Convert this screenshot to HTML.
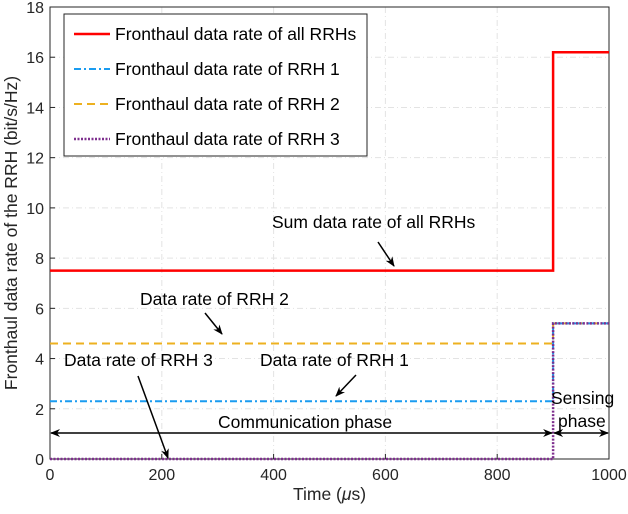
<!DOCTYPE html>
<html><head><meta charset="utf-8"><style>
body{margin:0;background:#fff}
svg{display:block;font-family:"Liberation Sans",Arial,sans-serif}
</style></head><body>
<svg id="c" width="628" height="514" viewBox="0 0 628 514">
<defs><marker id="ah" markerWidth="10" markerHeight="8" refX="9" refY="4" orient="auto-start-reverse" markerUnits="userSpaceOnUse"><path d="M0,0 L10,4 L0,8 L3,4 Z" fill="#000"/></marker></defs>
</svg>
<script>
const xTicks=[0,200,400,600,800,1000];
const yTicks=[0,2,4,6,8,10,12,14,16,18];
const timeSteps=[0,900,1000];
const sumRate=[7.5,16.2];
const rrh1Rate=[2.3,5.4];
const rrh2Rate=[4.6,5.4];
const rrh3Rate=[0,5.4];
const L=50,R=609,T=7,B=459;
const FS=17.5,TFS=16;
const X=v=>L+(v-0)/(1000-0)*(R-L);
const Y=v=>B-(v-0)/(18-0)*(B-T);
const svg=document.getElementById('c');const NS='http://www.w3.org/2000/svg';
function mk(tag,attrs,parent){const e=document.createElementNS(NS,tag);for(const k in attrs)e.setAttribute(k,attrs[k]);(parent||svg).appendChild(e);return e;}
mk('rect',{x:L,y:T,width:R-L,height:B-T,fill:'#fff'});
xTicks.forEach(t=>{const g=mk('line',{x1:X(t),x2:X(t),y1:T,y2:B,stroke:'#e3e3e3','stroke-dasharray':'6,3,1,3'});

const tx=mk('text',{x:X(t),y:B+21,'text-anchor':'middle','font-size':TFS,fill:'#262626'});tx.textContent=t;

mk('line',{x1:X(t),x2:X(t),y1:B,y2:B-5,stroke:'#262626'});});
yTicks.forEach(t=>{const g=mk('line',{x1:L,x2:R,y1:Y(t),y2:Y(t),stroke:'#e3e3e3','stroke-dasharray':'6,3,1,3'});

const tx=mk('text',{x:L-6,y:Y(t)+6,'text-anchor':'end','font-size':TFS,fill:'#262626'});tx.textContent=t;

mk('line',{x1:L,x2:L+5,y1:Y(t),y2:Y(t),stroke:'#262626'});});
const ax=mk('rect',{x:L,y:T,width:R-L,height:B-T,fill:'none',stroke:'#262626','stroke-width':1});

function stepPath(vals){let d='';for(let i=0;i<vals.length;i++){const x0=X(timeSteps[i]),x1=X(timeSteps[i+1]),y=Y(vals[i]);d+=(i===0?'M':'L')+x0+','+y+' L'+x1+','+y+' ';}return d;}
const series=[[sumRate,'#ff0000','',2.5,'sum-rate-line'],[rrh2Rate,'#edb120','8,5',2,'rrh2-rate-line'],[rrh1Rate,'#1a9cf0','7,3,2,3',2,'rrh1-rate-line'],[rrh3Rate,'#7e2f8e','2,1.5',2.5,'rrh3-rate-line']];
series.forEach(s=>{const p=mk('path',{d:stepPath(s[0]),fill:'none',stroke:s[1],'stroke-width':s[3],'stroke-dasharray':s[2]});
});
const lg=mk('g',{});
mk('rect',{x:64,y:14,width:303,height:142,fill:'#fff',stroke:'#262626'},lg);
const labs=['Fronthaul data rate of all RRHs','Fronthaul data rate of RRH 1','Fronthaul data rate of RRH 2','Fronthaul data rate of RRH 3'];
const lorder=[0,2,1,3];
labs.forEach((l,i)=>{const s=series[lorder[i]];const y=34+i*35;
mk('line',{x1:74,x2:110,y1:y,y2:y,stroke:s[1],'stroke-width':s[3],'stroke-dasharray':s[2]},lg);
const t=mk('text',{x:115,y:y+6,'font-size':FS,fill:'#000'},lg);t.textContent=l;
});
function ann(txt,tx,ty,x1,y1,x2,y2,name){const t=mk('text',{x:tx,y:ty,'font-size':FS,fill:'#000'});t.textContent=txt;

if(x1!==null)mk('line',{x1:x1,y1:y1,x2:x2,y2:y2,stroke:'#000','stroke-width':1.5,'marker-end':'url(#ah)'});}
ann('Sum data rate of all RRHs',272,228,378,242,394,266,'sum-annotation');
ann('Data rate of RRH 2',140,305,205,313,222,334,'rrh2-annotation');
ann('Data rate of RRH 1',260,366,356,375,336,396,'rrh1-annotation');
ann('Data rate of RRH 3',64,366,138,376,168,458,'rrh3-annotation');
ann('Communication phase',218,428,null,null,null,null,'communication-phase-label');
ann('Sensing',551,404,null,null,null,null,'sensing-label');ann('phase',558,427,null,null,null,null,'phase-label');
const a1=mk('line',{x1:51,y1:433,x2:X(900)-1,y2:433,stroke:'#000','stroke-width':1.5,'marker-start':'url(#ah)','marker-end':'url(#ah)'});

const a2=mk('line',{x1:X(900)+1,y1:433,x2:R-1,y2:433,stroke:'#000','stroke-width':1.5,'marker-start':'url(#ah)','marker-end':'url(#ah)'});

const xt=mk('text',{x:(L+R)/2,y:500,'text-anchor':'middle','font-size':FS,fill:'#262626'});xt.innerHTML='Time (<tspan font-style="italic">μ</tspan>s)';

const yt=mk('text',{x:0,y:0,'text-anchor':'middle','font-size':FS,fill:'#262626',transform:'translate(17,233) rotate(-90)'});yt.textContent='Fronthaul data rate of the RRH (bit/s/Hz)';

</script>
</body></html>
